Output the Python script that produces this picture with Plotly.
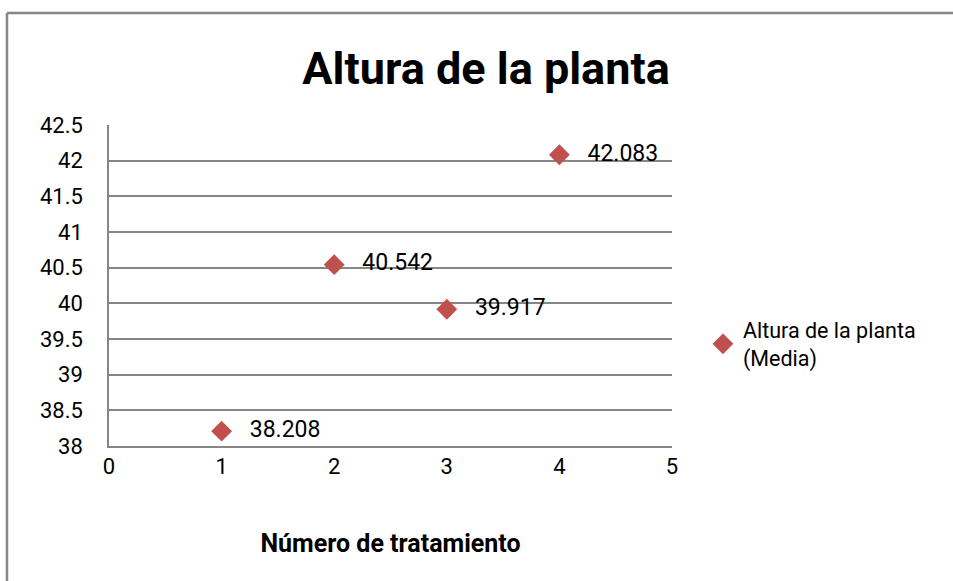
import plotly.graph_objects as go

# Altura de la planta (media) por tratamiento
tratamiento = [1, 2, 3, 4]
altura_media = [38.208, 40.542, 39.917, 42.083]
etiquetas = ["38.208", "40.542", "39.917", "42.083"]

x_ticks = [0, 1, 2, 3, 4, 5]
y_ticks = [38, 38.5, 39, 39.5, 40, 40.5, 41, 41.5, 42, 42.5]
y_ticktext = ["38", "38.5", "39", "39.5", "40", "40.5", "41", "41.5", "42", "42.5"]

FONT = "Roboto"
GRID = "#868686"
RED = "#C0504D"

fig = go.Figure()
fig.add_trace(go.Scatter(
    x=tratamiento, y=altura_media, mode="markers+text",
    name="Altura de la planta<br>(Media)",
    text=["\u00a0\u00a0\u00a0" + t for t in etiquetas], textposition="middle right",
    textfont=dict(family=FONT, size=23, color="black"),
    marker=dict(symbol="diamond", size=16, color=RED),
    cliponaxis=False,
))

# marco exterior del gráfico (solo se ven el borde superior y el izquierdo)
fig.add_shape(type="line", xref="paper", yref="paper",
              x0=-0.1812, x1=1.7, y0=1.349, y1=1.349,
              line=dict(color=GRID, width=2.5), layer="below")
fig.add_shape(type="line", xref="paper", yref="paper",
              x0=-0.1812, x1=-0.1812, y0=-0.6, y1=1.349,
              line=dict(color=GRID, width=2.5), layer="below")

fig.update_layout(
    width=953, height=581,
    margin=dict(l=109, r=281, t=125, b=135),
    paper_bgcolor="white", plot_bgcolor="white",
    font=dict(family=FONT, size=22, color="black"),
    title=dict(text="<b>Altura de la planta</b>", x=0.51, xanchor="center",
               y=1 - 68 / 581, yanchor="middle",
               font=dict(family=FONT, size=45, color="black")),
    showlegend=True,
    legend=dict(x=1.055, xanchor="left", y=0.318, yanchor="middle",
                font=dict(family=FONT, size=21.5), itemwidth=30,
                tracegroupgap=0),
    xaxis=dict(range=[0, 5], tickvals=x_ticks, showgrid=False, zeroline=False,
               showline=True, linecolor=GRID, linewidth=1.5,
               ticks="", ticklabelstandoff=0,
               title=dict(text="<b>Número de tratamiento</b>", standoff=56,
                          font=dict(family=FONT, size=25))),
    yaxis=dict(range=[38, 42.5], tickvals=y_ticks, ticktext=y_ticktext,
               showgrid=True, gridcolor=GRID, gridwidth=1.5, zeroline=False,
               showline=True, linecolor=GRID, linewidth=1.5,
               ticks="", ticklabelstandoff=20),
)

# sin margen del <body>, para que la figura ocupe toda la ventana
fig.write_html("out.html", config={"displayModeBar": False},
               post_script="document.body.style.margin='0';")
